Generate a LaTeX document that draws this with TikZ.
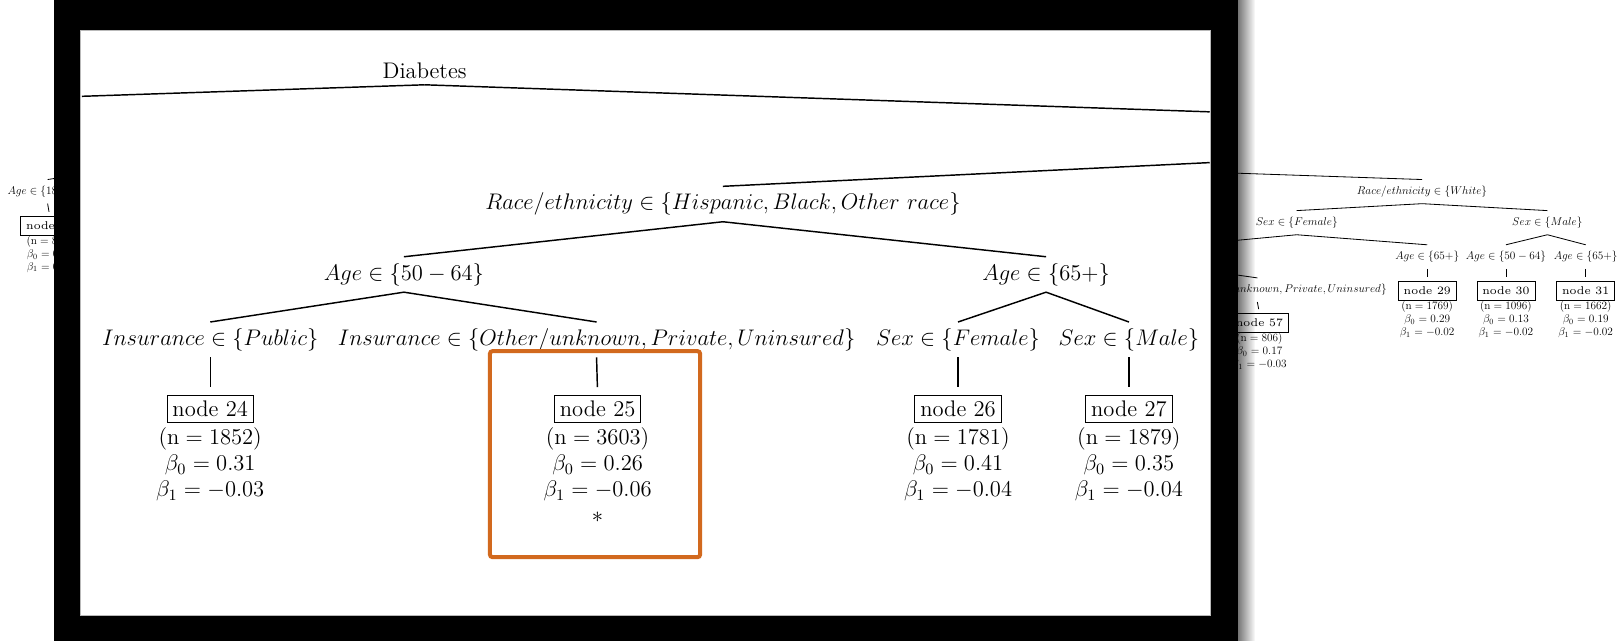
\documentclass[tikz,border=0pt]{standalone}
\usepackage{amsmath,amssymb}
\usepackage{tikz}
\usetikzlibrary{fadings}
% mesmo desenho de letra nas duas escalas
\DeclareFontShape{OT1}{cmr}{m}{n}{<-5>cmr9 <5-7>cmr12 <7-10>cmr9 <10->cmr12}{}
\DeclareFontShape{OML}{cmm}{m}{it}{<-5>cmmi9 <5-7>cmmi12 <7-10>cmmi9 <10->cmmi12}{}
\DeclareFontShape{OMS}{cmsy}{m}{n}{<-5>cmsy9 <5-7>cmsy10 <7-10>cmsy9 <10->cmsy10}{}
\definecolor{Claranja}{RGB}{210,105,30}
\definecolor{Cborda}{RGB}{185,185,185}
\newcommand{\fonteG}{\fontsize{12.4}{14.3}\selectfont}
\newcommand{\fonteP}{\fontsize{6.2}{7.1}\selectfont}
\tikzfading[name=sombra, left color=transparent!0, right color=transparent!100]

\begin{document}
\begin{tikzpicture}[x=0.2mm, y=-0.2mm,
    rotG/.style={font=\fonteG},
    rotP/.style={font=\fonteP},
    caixa/.style={draw, inner sep=0.3em},
    dados/.style={align=center, anchor=north, inner sep=0.25em},
    dadosP/.style={dados, inner sep=0pt},
    ramoG/.style={line width=0.8pt},
    ramoP/.style={line width=0.45pt}]
  \useasboundingbox (0,0) rectangle (1568,619);

  % Arvore de fundo (reduzida) -- resto a esquerda
  \coordinate (cA18) at (100,165);
  \node[rotP] (idade18) at (46,185) {$Age \in \{18-49\}$};
  \node[rotP, caixa] (noE) at (48,218) {node 22};
  \node[rotP, dadosP] (ddE) at (noE.south) {$(\mathrm{n} = 812)$\\ $\beta_0 = 0.21$\\ $\beta_1 = 0.01$};
  \draw[ramoP] (idade18.north) -- (cA18);
  \draw[ramoP, shorten >=2.3pt] (idade18.south) -- (noE.north);

  % Arvore de fundo -- ramo White a direita
  \coordinate (cRW) at (1100,164);
  \coordinate (cSF) at (1130,238);
  \coordinate (cIO) at (1128,256);
  \node[rotP] (racaW) at (1373,185) {$Race/ethnicity \in \{White\}$};
  \node[rotP] (sexoFp) at (1252,215) {$Sex \in \{Female\}$};
  \node[rotP] (sexoMp) at (1494,215) {$Sex \in \{Male\}$};
  \node[rotP] (idade65a) at (1378,248) {$Age \in \{65+\}$};
  \node[rotP] (idade50p) at (1454,248) {$Age \in \{50-64\}$};
  \node[rotP] (idade65b) at (1531,248) {$Age \in \{65+\}$};
  \node[rotP] (segOp) at (1214,280) {$Insurance \in \{Other/unknown, Private, Uninsured\}$};
  \draw[ramoP] (cRW) -- (racaW.north);
  \draw[ramoP] (racaW.south) -- (sexoFp.north);
  \draw[ramoP] (racaW.south) -- (sexoMp.north);
  \draw[ramoP] (sexoFp.south) -- (cSF);
  \draw[ramoP] (sexoFp.south) -- (idade65a.north);
  \draw[ramoP] (sexoMp.south) -- (idade50p.north);
  \draw[ramoP] (sexoMp.south) -- (idade65b.north);
  \draw[ramoP] (cIO) -- (segOp.north);

  % Folhas pequenas
  \node[rotP, caixa] (no57) at (1216,312) {node 57};
  \node[rotP, dadosP] (dd57) at (no57.south) {$(\mathrm{n} = 806)$\\ $\beta_0 = 0.17$\\ $\beta_1 = -0.03$};
  \node[rotP, caixa] (no29) at (1378,281) {node 29};
  \node[rotP, dadosP] (dd29) at (no29.south) {$(\mathrm{n} = 1769)$\\ $\beta_0 = 0.29$\\ $\beta_1 = -0.02$};
  \node[rotP, caixa] (no30) at (1454,281) {node 30};
  \node[rotP, dadosP] (dd30) at (no30.south) {$(\mathrm{n} = 1096)$\\ $\beta_0 = 0.13$\\ $\beta_1 = -0.02$};
  \node[rotP, caixa] (no31) at (1531,281) {node 31};
  \node[rotP, dadosP] (dd31) at (no31.south) {$(\mathrm{n} = 1662)$\\ $\beta_0 = 0.19$\\ $\beta_1 = -0.02$};
  \draw[ramoP, shorten >=2.3pt] (segOp.south) -- (no57.north);
  \draw[ramoP, shorten >=2.3pt] (idade65a.south) -- (no29.north);
  \draw[ramoP, shorten >=2.3pt] (idade50p.south) -- (no30.north);
  \draw[ramoP, shorten >=2.3pt] (idade65b.south) -- (no31.north);

  % Moldura preta da ampliacao, com sombra
  \fill[black] (52,0) rectangle (1195,619);
  \fill[black, path fading=sombra, opacity=0.55] (1195,0) rectangle (1212,619);
  \draw[Cborda, fill=white, line width=0.4pt] (78,29) rectangle (1169,594);

  % Ampliacao -- topo
  \coordinate (cE1) at (79,93);
  \coordinate (cD1) at (1168,108);
  \coordinate (cR) at (1168,157);
  \node[rotG] (raizD) at (410,68) {Diabetes};
  \draw[ramoG] (raizD.south) -- (cE1);
  \draw[ramoG] (raizD.south) -- (cD1);

  % Ampliacao -- ramo Hispanic, Black, Other race
  \node[rotG] (racaH) at (698,197) {$Race/ethnicity \in \{Hispanic, Black, Other\ race\}$};
  \node[rotG] (idade50) at (390,265) {$Age \in \{50-64\}$};
  \node[rotG] (idade65) at (1010,265) {$Age \in \{65+\}$};
  \node[rotG] (segPub) at (203,328) {$Insurance \in \{Public\}$};
  \node[rotG] (segOut) at (576,328) {$Insurance \in \{Other/unknown, Private, Uninsured\}$};
  \node[rotG] (sexoF) at (925,328) {$Sex \in \{Female\}$};
  \node[rotG] (sexoM) at (1090,328) {$Sex \in \{Male\}$};
  \draw[ramoG] (cR) -- (racaH.north);
  \draw[ramoG] (racaH.south) -- (idade50.north);
  \draw[ramoG] (racaH.south) -- (idade65.north);
  \draw[ramoG] (idade50.south) -- (segPub.north);
  \draw[ramoG] (idade50.south) -- (segOut.north);
  \draw[ramoG] (idade65.south) -- (sexoF.north);
  \draw[ramoG] (idade65.south) -- (sexoM.north);

  % Folhas ampliadas
  \node[rotG, caixa] (no24) at (203,395) {node 24};
  \node[rotG, dados] (dd24) at (no24.south) {$(\mathrm{n} = 1852)$\\ $\beta_0 = 0.31$\\ $\beta_1 = -0.03$};
  \node[rotG, caixa] (no25) at (577,395) {node 25};
  \node[rotG, dados] (dd25) at (no25.south) {$(\mathrm{n} = 3603)$\\ $\beta_0 = 0.26$\\ $\beta_1 = -0.06$\\ $\ast$};
  \node[rotG, caixa] (no26) at (925,395) {node 26};
  \node[rotG, dados] (dd26) at (no26.south) {$(\mathrm{n} = 1781)$\\ $\beta_0 = 0.41$\\ $\beta_1 = -0.04$};
  \node[rotG, caixa] (no27) at (1090,395) {node 27};
  \node[rotG, dados] (dd27) at (no27.south) {$(\mathrm{n} = 1879)$\\ $\beta_0 = 0.35$\\ $\beta_1 = -0.04$};
  \draw[ramoG, shorten >=4.5pt] (segPub.south) -- (no24.north);
  \draw[ramoG, shorten >=4.5pt] (segOut.south) -- (no25.north);
  \draw[ramoG, shorten >=4.5pt] (sexoF.south) -- (no26.north);
  \draw[ramoG, shorten >=4.5pt] (sexoM.south) -- (no27.north);

  % Destaque laranja do node 25
  \draw[Claranja, line width=2.2pt, rounded corners=1.5pt] (473,339) rectangle (676,538);
\end{tikzpicture}
\end{document}
